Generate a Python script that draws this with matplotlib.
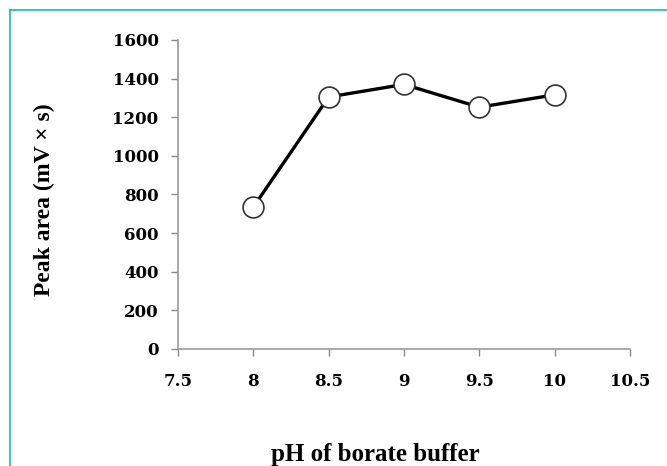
import matplotlib.pyplot as plt
from matplotlib.lines import Line2D

ph = [8, 8.5, 9, 9.5, 10]
peak_area = [735, 1305, 1370, 1252, 1316]
x_ticks = [7.5, 8, 8.5, 9, 9.5, 10, 10.5]
x_labels = ['7.5', '8', '8.5', '9', '9.5', '10', '10.5']
y_ticks = [0, 200, 400, 600, 800, 1000, 1200, 1400, 1600]

plt.rcParams['font.family'] = ['Liberation Serif', 'DejaVu Serif']
plt.rcParams['font.weight'] = 'bold'

fig = plt.figure(figsize=(6.67, 4.66), dpi=100)
ax = fig.add_axes([0.2669, 0.2511, 0.6776, 0.6631])

ax.plot(ph, peak_area, color='black', linewidth=2.4, marker='o',
        markersize=15, markerfacecolor='white', markeredgecolor='#333333',
        markeredgewidth=1.2, zorder=3)

ax.set_xlim(7.5, 10.5)
ax.set_ylim(0, 1600)
ax.set_xticks(x_ticks)
ax.set_xticklabels(x_labels)
ax.set_yticks(y_ticks)
ax.tick_params(axis='both', color='#888888', length=5, width=1)
ax.tick_params(axis='x', pad=12)
ax.tick_params(axis='y', pad=9)
for lab in ax.get_xticklabels() + ax.get_yticklabels():
    lab.set_fontfamily('DejaVu Serif')
    lab.set_fontweight('bold')
    lab.set_fontsize(12)

for side in ['top', 'right']:
    ax.spines[side].set_visible(False)
for side in ['left', 'bottom']:
    ax.spines[side].set_color('#999999')
    ax.spines[side].set_linewidth(1.2)

fig.text(0.067, 0.571, 'Peak area (mV \u00d7 s)', fontsize=17, fontweight='bold',
         ha='center', va='center', rotation=90)
fig.text(0.562, 0.024, 'pH of borate buffer', fontsize=18, fontweight='bold',
         ha='center', va='center')

# teal frame on top and left
fig.add_artist(Line2D([10/667, 1.0], [1 - 10/466, 1 - 10/466],
                      color='#1abc9c', linewidth=1.2, transform=fig.transFigure))
fig.add_artist(Line2D([10/667, 10/667], [0, 1 - 10/466],
                      color='#1abc9c', linewidth=1.2, transform=fig.transFigure))

fig.savefig('out.png', dpi=100)
